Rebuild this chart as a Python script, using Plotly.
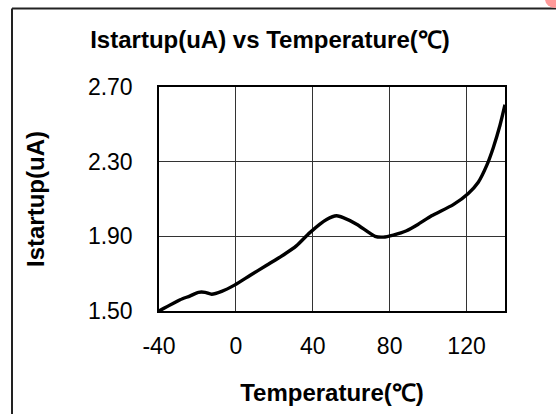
import plotly.graph_objects as go

# temperature (C) vs startup current (uA)
temperature = [-40, -29, -24, -19.5, -16, -12.6, -7.4, -0.5, 7.3, 16, 24.7, 31.6,
               38.5, 47.2, 52.4, 55.8, 62.8, 72.4, 76.7, 81.9, 88.8, 94.9, 101.8,
               113.1, 120.9, 126.1, 130.5, 133.9, 137.4, 140]
istartup = [1.50, 1.56, 1.58, 1.60, 1.60, 1.59, 1.605, 1.64, 1.69, 1.745, 1.80, 1.85,
            1.92, 1.99, 2.01, 2.00, 1.965, 1.90, 1.896, 1.907, 1.93, 1.965, 2.01,
            2.07, 2.13, 2.19, 2.28, 2.375, 2.495, 2.605]

x_ticks = [-40, 0, 40, 80, 120]
x_tick_text = ["-40", "0", "40", "80", "120"]
y_ticks = [1.5, 1.9, 2.3, 2.7]
y_tick_text = ["1.50", "1.90", "2.30", "2.70"]

W, H = 556, 414
L, R, T, B = 159, 51, 87, 103
pw, ph = W - L - R, H - T - B


def px(x):
    return (x - L) / pw


def py(y):
    return (H - B - y) / ph


fig = go.Figure()
fig.add_trace(go.Scatter(
    x=temperature, y=istartup, mode="lines",
    line=dict(color="black", width=3.4, shape="spline", smoothing=0.6),
    showlegend=False, hoverinfo="skip",
))

font_family = "Liberation Sans, Arial, sans-serif"
frame = dict(color="#222", width=2)

fig.update_layout(
    width=W, height=H,
    margin=dict(l=L, r=R, t=T, b=B, autoexpand=False),
    paper_bgcolor="white", plot_bgcolor="white",
    font=dict(family=font_family, color="black", size=23),
    title=dict(
        text="<b>Istartup(uA) vs Temperature(℃)</b>",
        xref="container", x=270 / W, xanchor="center",
        yref="container", y=1 - 40 / H, yanchor="middle",
        font=dict(size=24),
    ),
    xaxis=dict(
        range=[-40, 140], tickvals=x_ticks, ticktext=x_tick_text, ticks="",
        ticklabelstandoff=14, automargin=False,
        showgrid=True, gridcolor="#333", gridwidth=1,
        showline=True, linecolor="black", linewidth=1.5, mirror=True,
        zeroline=False,
        title=dict(text="<b>Temperature(℃)</b>", font=dict(size=24), standoff=26),
    ),
    yaxis=dict(
        range=[1.5, 2.7], tickvals=y_ticks, ticktext=y_tick_text, ticks="",
        ticklabelstandoff=20, automargin=False,
        showgrid=True, gridcolor="#333", gridwidth=1,
        showline=True, linecolor="black", linewidth=1.5, mirror=True,
        zeroline=False,
        title=dict(text="<b>Istartup(uA)</b>", font=dict(size=24), standoff=36),
    ),
    shapes=[
        # outer chart frame (its right and bottom edges run past the picture)
        dict(type="line", xref="paper", yref="paper",
             x0=px(12), x1=px(W), y0=py(8.5), y1=py(8.5), line=frame, layer="above"),
        dict(type="line", xref="paper", yref="paper",
             x0=px(12), x1=px(12), y0=py(8.5), y1=py(H), line=frame, layer="above"),
        # pink watermark fragment in the top-right corner
        dict(type="circle", xref="paper", yref="paper",
             x0=px(545), x1=px(565), y0=py(8), y1=py(-10),
             line=dict(width=0), fillcolor="#ff9a9a", layer="above"),
    ],
)

# drop the browser's default body margin so the chart sits at the page origin
fig.write_html(
    "out.html",
    config={"displayModeBar": False},
    post_script="document.body.style.margin = '0';",
)
